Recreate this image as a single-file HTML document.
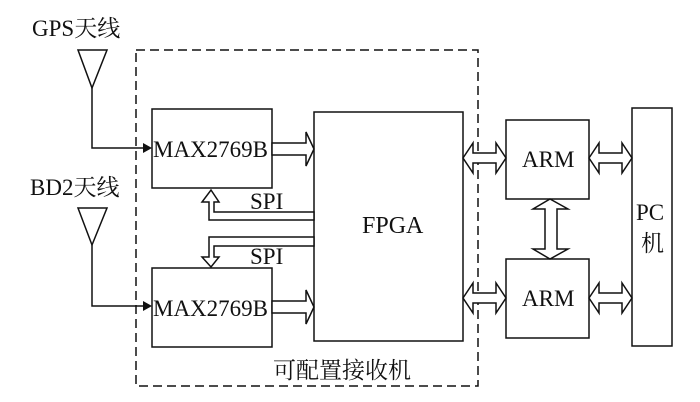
<!DOCTYPE html>
<html><head><meta charset="utf-8"><style>
html,body{margin:0;padding:0;background:#fff;}
svg{display:block;}
text{font-family:"Liberation Serif","Noto Serif CJK SC",serif;fill:#111;}
</style></head><body>
<svg width="700" height="402" viewBox="0 0 700 402" xmlns="http://www.w3.org/2000/svg">
<g fill="none" stroke="#111" stroke-width="1.5">
<rect x="136" y="50" width="342" height="336" stroke-dasharray="9,5"/>
<rect x="152" y="109" width="120" height="79"/>
<rect x="152" y="268" width="120" height="79"/>
<rect x="314" y="112" width="149" height="229"/>
<rect x="506" y="120" width="83" height="79"/>
<rect x="506" y="259" width="83" height="79"/>
<rect x="632" y="108" width="40" height="238"/>
<polygon points="78,50 107,50 92,88"/>
<polyline points="92,88 92,148 143,148"/>
<polygon points="78,208 107,208 92,245"/>
<polyline points="92,245 92,306 143,306"/>
<polygon points="272,143 306,143 306,132 314,149 306,166 306,155 272,155" fill="#fff"/>
<polygon points="272,301 306,301 306,290 314,307 306,324 306,313 272,313" fill="#fff"/>
<polygon points="314,212 214,212 214,202 219,202 211,190 202,202 209,202 209,220 314,220" fill="#fff"/>
<polygon points="314,237 209,237 209,257 202,257 211,267 219,257 214,257 214,246 314,246" fill="#fff"/>
<polygon points="463,158 473,143 473,153 496,153 496,143 506,158 496,173 496,163 473,163 473,173" fill="#fff"/>
<polygon points="463,298 473,283 473,293 496,293 496,283 506,298 496,313 496,303 473,303 473,313" fill="#fff"/>
<polygon points="589,158 599,143 599,153 622,153 622,143 632,158 622,173 622,163 599,163 599,173" fill="#fff"/>
<polygon points="589,298 599,283 599,293 622,293 622,283 632,298 622,313 622,303 599,303 599,313" fill="#fff"/>
<polygon points="550,199 568,209 557,209 557,249 568,249 550,259 533,249 545,249 545,209 533,209" fill="#fff"/>
</g>
<polygon points="143,143 152,148 143,153" fill="#111"/>
<polygon points="143,301 152,306 143,311" fill="#111"/>
<g font-size="23">
<text x="32" y="36">GPS天线</text>
<text x="30" y="195">BD2天线</text>
<text x="153" y="157">MAX2769B</text>
<text x="153" y="316">MAX2769B</text>
<text x="250" y="209">SPI</text>
<text x="250" y="264">SPI</text>
<text x="362" y="233" font-size="24">FPGA</text>
<text x="522" y="167">ARM</text>
<text x="522" y="306">ARM</text>
<text x="636" y="220">PC</text>
<text x="641" y="251">机</text>
<text x="273" y="378">可配置接收机</text>
</g>
</svg>
</body></html>
